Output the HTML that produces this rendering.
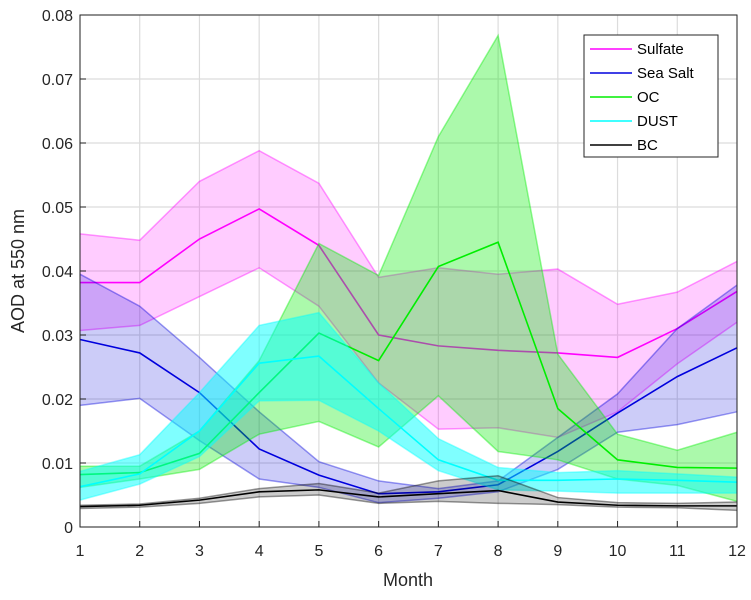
<!DOCTYPE html>
<html><head><meta charset="utf-8"><style>
body{margin:0;background:#fff;font-family:"Liberation Sans",sans-serif}
svg text{font-family:"Liberation Sans",sans-serif}
</style></head><body>
<svg id="chart" width="751" height="595" xmlns="http://www.w3.org/2000/svg">
<rect width="751" height="595" fill="#fff"/>
<g id="grid"></g>
<g id="series"></g>
<g id="axes"></g>
<text x="408" y="586" font-size="18" text-anchor="middle" fill="#262626">Month</text>
<text transform="translate(24,271) rotate(-90)" font-size="18" text-anchor="middle" fill="#262626">AOD at 550 nm</text>
<g id="legend"></g>
</svg>
<script>
const months=[1,2,3,4,5,6,7,8,9,10,11,12];
const yTicks=[0,0.01,0.02,0.03,0.04,0.05,0.06,0.07,0.08];
const yTickLabels=["0","0.01","0.02","0.03","0.04","0.05","0.06","0.07","0.08"];
const seriesNames=["Sulfate","Sea Salt","OC","DUST","BC"];
const sulfateMean=[0.0382,0.0382,0.045,0.0497,0.044,0.030,0.0283,0.0276,0.0272,0.0265,0.031,0.0368];
const sulfateUpper=[0.0458,0.0448,0.054,0.0588,0.0537,0.039,0.0405,0.0395,0.0403,0.0348,0.0367,0.0415];
const sulfateLower=[0.0307,0.0315,0.036,0.0405,0.0345,0.0225,0.0153,0.0155,0.014,0.018,0.0255,0.032];
const seaSaltMean=[0.0293,0.0272,0.021,0.0122,0.0081,0.0052,0.0055,0.0066,0.0118,0.0178,0.0235,0.028];
const seaSaltUpper=[0.0395,0.0345,0.0265,0.018,0.0102,0.0072,0.006,0.0072,0.014,0.0208,0.031,0.0378];
const seaSaltLower=[0.019,0.0201,0.0135,0.0075,0.0062,0.0038,0.0045,0.0055,0.009,0.0148,0.016,0.018];
const ocMean=[0.0082,0.0085,0.0115,0.021,0.0303,0.026,0.0407,0.0445,0.0185,0.0105,0.0093,0.0092];
const ocUpper=[0.0095,0.0095,0.015,0.026,0.0443,0.0393,0.061,0.0768,0.027,0.0145,0.012,0.0148];
const ocLower=[0.0062,0.0075,0.009,0.0145,0.0165,0.0125,0.0205,0.0118,0.0105,0.0075,0.0065,0.004];
const dustMean=[0.0063,0.0083,0.015,0.0256,0.0267,0.0185,0.0105,0.0073,0.0073,0.0075,0.0073,0.007];
const dustUpper=[0.0087,0.0113,0.021,0.0315,0.0335,0.0225,0.0138,0.0093,0.0085,0.0088,0.0083,0.0078];
const dustLower=[0.0042,0.0067,0.011,0.0197,0.0198,0.015,0.0088,0.0058,0.0056,0.0053,0.0053,0.0053];
const bcMean=[0.0032,0.0034,0.0042,0.0055,0.0058,0.0047,0.0052,0.0057,0.0039,0.0034,0.0033,0.0033];
const bcUpper=[0.0034,0.0036,0.0045,0.006,0.0068,0.0053,0.0072,0.0080,0.0046,0.0038,0.0037,0.0039];
const bcLower=[0.0029,0.0031,0.0037,0.0047,0.0050,0.0037,0.0040,0.0037,0.0035,0.0031,0.0030,0.0026];

const L=80,R=737,T=15,B=527;
const x=m=>L+(m-1)*(R-L)/11;
const y=v=>B-v/0.08*(B-T);
const NS="http://www.w3.org/2000/svg";
function mk(tag,parent,attrs){const e=document.createElementNS(NS,tag);for(const k in attrs)e.setAttribute(k,attrs[k]);parent.appendChild(e);return e;}
const grid=document.getElementById('grid'),axes=document.getElementById('axes'),ser=document.getElementById('series'),leg=document.getElementById('legend');
months.forEach(m=>{
  const g=mk('line',grid,{x1:x(m),x2:x(m),y1:T,y2:B,stroke:'#dcdcdc','stroke-width':1.2});
  
  
  const t=mk('line',axes,{x1:x(m),x2:x(m),y1:B,y2:B-6,stroke:'#262626'});
  
  
  const tt=mk('text',axes,{x:x(m),y:556,'font-size':16,'text-anchor':'middle',fill:'#262626'});tt.textContent=m;
  
  
});
yTicks.forEach((v,i)=>{
  const g=mk('line',grid,{x1:L,x2:R,y1:y(v),y2:y(v),stroke:'#dcdcdc','stroke-width':1.2});
  
  
  const t=mk('line',axes,{x1:L,x2:L+6,y1:y(v),y2:y(v),stroke:'#262626'});
  
  
  const tt=mk('text',axes,{x:73,y:y(v)+6,'font-size':16,'text-anchor':'end',fill:'#262626'});tt.textContent=yTickLabels[i];
  
  
});
const sets=[
 [sulfateMean,sulfateUpper,sulfateLower,'#ff00ff',0.2,'sulfate'],
 [seaSaltMean,seaSaltUpper,seaSaltLower,'#0000dd',0.2,'sea-salt'],
 [ocMean,ocUpper,ocLower,'#00ee00',0.33,'oc'],
 [dustMean,dustUpper,dustLower,'#00ffff',0.5,'dust'],
 [bcMean,bcUpper,bcLower,'#000000',0.2,'bc']];
const pts=a=>a.map((v,i)=>x(months[i])+','+y(v)).join(' ');
sets.forEach(s=>{
  const [mean,up,lo,c,op,nm]=s;
  const poly=up.map((v,i)=>x(months[i])+','+y(v)).concat(lo.map((v,i)=>x(months[i])+','+y(v)).reverse()).join(' ');
  const p=mk('polygon',ser,{points:poly,fill:c,'fill-opacity':op,stroke:'none'});
  
  
  [up,lo].forEach(a=>{const e=mk('polyline',ser,{points:pts(a),fill:'none',stroke:c,'stroke-opacity':0.4,'stroke-width':1.5});
    
    });
  const l=mk('polyline',ser,{points:pts(mean),fill:'none',stroke:c,'stroke-width':1.6});
  
  
});
mk('rect',axes,{x:L,y:T,width:R-L,height:B-T,fill:'none',stroke:'#262626','stroke-width':1});
const lb=mk('rect',leg,{x:584,y:35,width:134,height:122,fill:'#fff',stroke:'#262626'});


seriesNames.forEach((n,i)=>{
  const yy=49+i*24;
  const l=mk('line',leg,{x1:590,x2:632,y1:yy,y2:yy,stroke:sets[i][3],'stroke-width':1.6});
  
  
  const t=mk('text',leg,{x:637,y:yy+5,'font-size':15,fill:'#000'});t.textContent=n;
  
  
});
</script>
</body></html>
